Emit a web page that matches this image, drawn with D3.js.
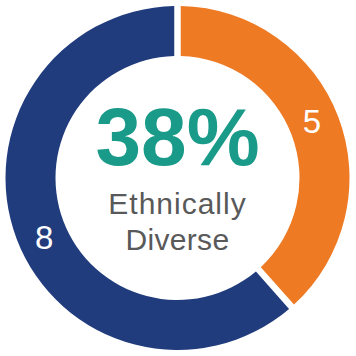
<!DOCTYPE html>
<html><head><meta charset="utf-8">
<script src="https://cdn.jsdelivr.net/npm/d3@7"></script>
<style>html,body{margin:0;padding:0;background:#fff;}svg{display:block;}</style>
</head><body>
<svg id="c" width="356" height="356"></svg>
<script>
const categories = ["Ethnically Diverse", "Other"];
const values = [5, 8];
const colors = ["#EE7A24", "#213C7D"];
const centerValue = "38%";
const centerLines = ["Ethnically", "Diverse"];

const svg = d3.select("#c");
const cx = 177.5, cy = 178, rOuter = 172, rInner = 122;
const g = svg.append("g").attr("transform", `translate(${cx},${cy})`);

const pie = d3.pie().sort(null).value(d => d)(values);
const arc = d3.arc().innerRadius(rInner).outerRadius(rOuter)
  .padAngle(6.5 / rOuter).padRadius(rOuter);

g.selectAll("path.slice").data(pie).join("path")
  .attr("class", "slice")
  .attr("d", arc)
  .attr("fill", (d, i) => colors[i]);

const labelR = (rInner + rOuter) / 2 - 1;
const labelArc = d3.arc().innerRadius(labelR).outerRadius(labelR);
g.selectAll("text.lab").data(pie).join("text")
  .attr("class", "lab")
  .attr("transform", d => {
    const a = d.startAngle + (d.endAngle - d.startAngle) * 0.485;
    return `translate(${Math.sin(a) * labelR},${-Math.cos(a) * labelR})`;
  })
  .attr("text-anchor", "middle")
  .attr("dy", "0.36em")
  .attr("fill", "#fff")
  .attr("font-family", "Liberation Sans, Arial, sans-serif")
  .attr("font-size", 33)
  .text(d => d.data);

g.append("text")
  .attr("x", 0).attr("y", 165 - cy)
  .attr("text-anchor", "middle")
  .attr("fill", "#1A9B8A")
  .attr("font-family", "Liberation Sans, Arial, sans-serif")
  .attr("font-weight", "bold")
  .attr("font-size", 82)
  .text(centerValue);

g.selectAll("text.sub").data(centerLines).join("text")
  .attr("class", "sub")
  .attr("x", 0)
  .attr("y", (d, i) => [214, 250][i] - cy)
  .attr("text-anchor", "middle")
  .attr("fill", "#595959")
  .attr("font-family", "Liberation Sans, Arial, sans-serif")
  .attr("font-size", 30)
  .attr("letter-spacing", (d, i) => i === 0 ? 1 : 0.3)
  .text(d => d);
</script>
</body></html>
